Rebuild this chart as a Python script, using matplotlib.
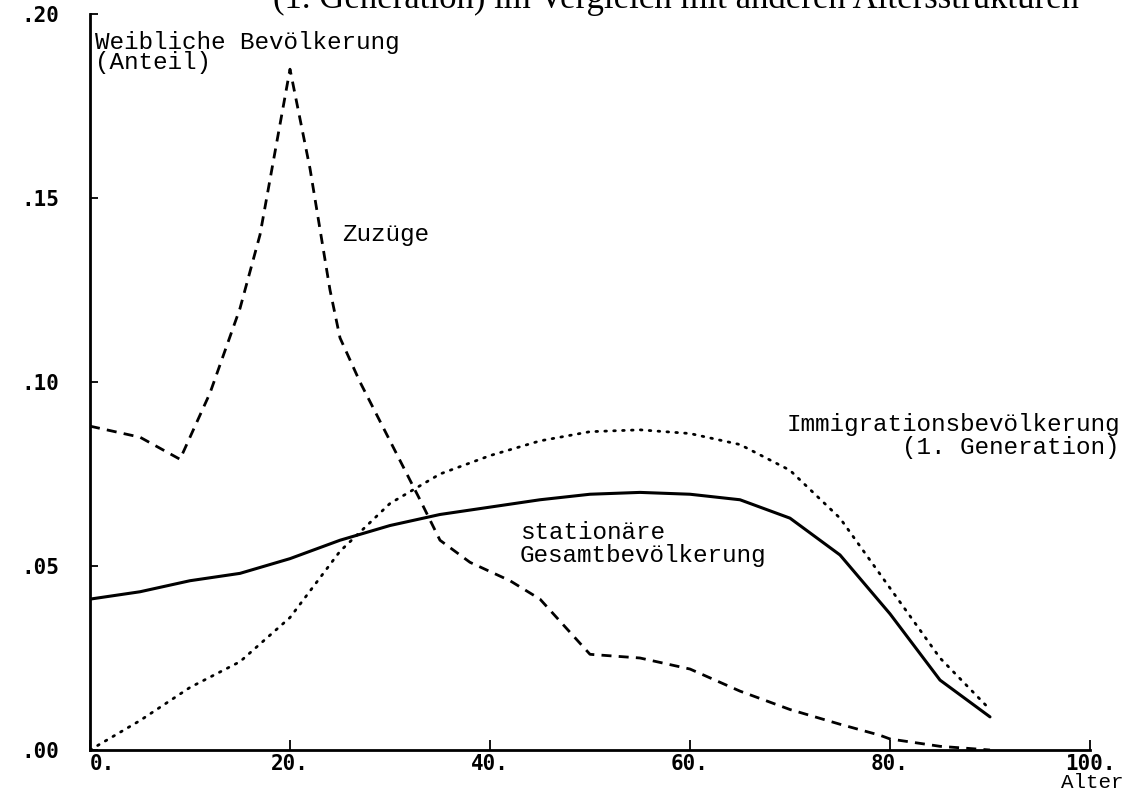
"""
    Altersstruktur: stationäre Bevölkerung, Zuzüge, Immigrationsbevölkerung
"""
from matplotlib import pyplot as plt

# Daten
alter = [0, 5, 10, 15, 20, 25, 30, 35, 40, 45, 50, 55, 60, 65, 70, 75, 80, 85, 90]
stationaer = [0.041, 0.043, 0.046, 0.048, 0.052, 0.057, 0.061, 0.064, 0.066, 0.068,
              0.0695, 0.070, 0.0695, 0.068, 0.063, 0.053, 0.037, 0.019, 0.009]
immigration = [0.000, 0.008, 0.017, 0.024, 0.036, 0.054, 0.067, 0.075, 0.080, 0.084,
               0.0865, 0.087, 0.086, 0.083, 0.076, 0.063, 0.044, 0.025, 0.011]

alter_zuzuege = [0, 5, 9, 12, 15, 17, 20, 22, 24, 25, 27, 30, 33, 35, 38, 42, 45, 48,
                 50, 55, 60, 65, 70, 75, 79, 80, 85, 90]
zuzuege = [0.088, 0.085, 0.079, 0.097, 0.120, 0.140, 0.185, 0.158, 0.125, 0.112, 0.100,
           0.084, 0.068, 0.057, 0.051, 0.046, 0.041, 0.032, 0.026, 0.025, 0.022, 0.016,
           0.011, 0.007, 0.004, 0.003, 0.001, 0.000]

x_ticks = [0, 20, 40, 60, 80, 100]
x_labels = ["0.", "20.", "40.", "60.", "80.", "100."]
y_ticks = [0.0, 0.05, 0.10, 0.15, 0.20]
y_labels = [".00", ".05", ".10", ".15", ".20"]

W, H = 1131, 791


def px(x, y):
    return x / W, 1 - y / H


mono = "Liberation Mono"
tick_font = dict(family="DejaVu Sans Mono", weight="bold", size=15)

fig = plt.figure(figsize=(W / 100, H / 100), dpi=100)
ax = fig.add_axes([90 / W, (H - 750) / H, 1000 / W, (750 - 14) / H])

# Kurven
ax.plot(alter, stationaer, color="black", linewidth=2.2, solid_capstyle="round")
ax.plot(alter, immigration, color="black", linewidth=2.0,
        linestyle=(0, (0.6, 2.6)), dash_capstyle="round")
ax.plot(alter_zuzuege, zuzuege, color="black", linewidth=2.0,
        linestyle=(0, (3.6, 2.6)))

ax.set_xlim(0, 100)
ax.set_ylim(0, 0.2)

for s in ["top", "right"]:
    ax.spines[s].set_visible(False)
for s in ["left", "bottom"]:
    ax.spines[s].set_linewidth(2.0)

ax.set_xticks(x_ticks)
ax.set_xticklabels(x_labels, fontdict=tick_font)
ax.get_xticklabels()[0].set_ha("left")
ax.set_yticks(y_ticks)
ax.set_yticklabels(y_labels, fontdict=tick_font)
ax.tick_params(axis="x", direction="in", length=7, width=1.3, pad=3)
ax.tick_params(axis="y", direction="in", length=6, width=1.3, pad=22)

# Beschriftungen
fig.text(*px(1092, 783), "Alter", family=mono, fontsize=15, ha="center", va="center")
fig.text(*px(95, 31), "Weibliche Bevölkerung\n(Anteil)", family=mono, fontsize=17.5,
         ha="left", va="top", linespacing=0.85)
fig.text(*px(342, 235), "Zuzüge", family=mono, fontsize=17.5, ha="left", va="center")
fig.text(*px(520, 544), "stationäre\nGesamtbevölkerung", family=mono, fontsize=17.5,
         ha="left", va="center", linespacing=0.95)
fig.text(*px(1120, 436), "Immigrationsbevölkerung\n(1. Generation)", family=mono,
         fontsize=17.5, ha="right", va="center", multialignment="right",
         linespacing=1.05)

# abgeschnittener Titel
fig.text(*px(273, 8), "(1. Generation) im Vergleich mit anderen Altersstrukturen",
         family="Liberation Serif", fontsize=25, ha="left", va="baseline")

plt.savefig("out.png", dpi=100)
